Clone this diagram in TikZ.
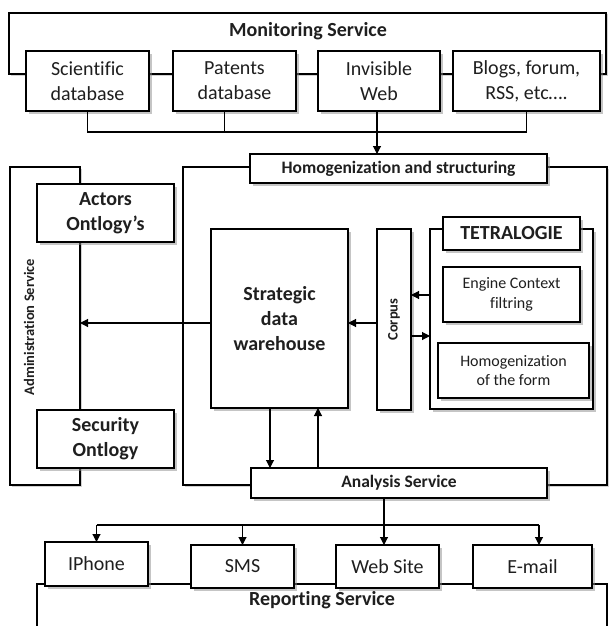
\documentclass[tikz,border=0pt]{standalone}
\usepackage{fontspec}
\setmainfont{Carlito}[Ligatures={NoCommon}]
\usetikzlibrary{arrows.meta,shadows}
\begin{document}
\begin{tikzpicture}[x=1pt,y=-1pt,
  every node/.style={inner sep=0pt, outer sep=0pt, text=black!88},
  line/.style={line width=1.1pt, draw=black},
  frame/.style={draw, line width=1.1pt, fill=white,
    drop shadow={shadow xshift=1.5pt, shadow yshift=-1.5pt, fill=black!35}},
  box/.style={draw, line width=1.1pt, fill=white, align=center,
    drop shadow={shadow xshift=3pt, shadow yshift=-3pt, fill=black!45}},
  big/.style={font=\fontsize{20}{25}\selectfont},
  bigb/.style={font=\bfseries\fontsize{20}{25}\selectfont},
  midb/.style={font=\bfseries\fontsize{17.5}{21}\selectfont},
  small/.style={font=\fontsize{16}{19.5}\selectfont},
  tinyb/.style={font=\bfseries\fontsize{14.5}{17}\selectfont},
  arr/.style={line, -{Triangle[length=8pt,width=8pt]}},
]
\useasboundingbox (0,0) rectangle (609,626);

% ---- outer service frames ----
\node[frame, minimum width=597pt, minimum height=61pt] (mon) at (307.5,43.5) {};
\node[frame, minimum width=70pt, minimum height=318pt] (admin) at (45,326) {};
\node[frame, minimum width=424pt, minimum height=318pt] (mid) at (395,326) {};
\draw[line] (37,630) |- (607,584) -- (607,630);
\coordinate (rep) at (322,600);

% ---- frame titles ----
\node[bigb] (monlbl) at (308,31) {Monitoring Service};
\node[tinyb, rotate=90] (adminlbl) at (29,327) {Administration Service};
\node[bigb] (replbl) at (rep) {Reporting Service};

% ---- sources ----
\node[box, big, minimum width=123pt, minimum height=60pt] (sci) at (87.5,81) {Scientific\\database};
\node[box, big, minimum width=123pt, minimum height=60pt] (pat) at (234.5,81) {Patents\\database};
\node[box, big, minimum width=122pt, minimum height=60pt] (inv) at (379,81) {Invisible\\Web};
\node[box, big, minimum width=147pt, minimum height=60pt] (blog) at (526.5,81) {Blogs, forum,\\RSS, etc….};

% ---- homogenization ----
\node[box, midb, minimum width=297pt, minimum height=29pt] (homog) at (398.5,168.5) {Homogenization and structuring};

% ---- administration ----
\node[box, bigb, minimum width=137pt, minimum height=58pt] (actors) at (105.5,213) {Actors\\Ontlogy’s};
\node[box, bigb, minimum width=137pt, minimum height=58pt] (secu) at (105.5,439) {Security\\Ontlogy};

% ---- processing core ----
\node[box, bigb, minimum width=137pt, minimum height=179pt] (sdw) at (279.5,318.5) {Strategic\\data\\warehouse};
\node[box, minimum width=34pt, minimum height=181pt] (corpus) at (394,319.5) {};
\node[tinyb, rotate=90] (corpuslbl) at (corpus) {Corpus};
\node[box, minimum width=163pt, minimum height=180pt] (tetra) at (511.5,319) {};
\node[box, bigb, minimum width=137pt, minimum height=33pt] (tetralbl) at (511.5,233.5) {TETRALOGIE};
\node[box, small, minimum width=137pt, minimum height=55pt] (engine) at (511.5,294.5) {Engine Context\\filtring};
\node[box, small, minimum width=151pt, minimum height=55pt] (form) at (513.5,370.5) {Homogenization\\of the form};

% ---- analysis ----
\node[box, midb, minimum width=296pt, minimum height=30pt] (ana) at (399,483) {Analysis Service};

% ---- outputs ----
\node[box, big, minimum width=103pt, minimum height=44pt] (iph) at (96.5,564) {IPhone};
\node[box, big, minimum width=103pt, minimum height=43pt] (sms) at (242.5,566.5) {SMS};
\node[box, big, minimum width=103pt, minimum height=43pt] (web) at (387.5,566.5) {Web Site};
\node[box, big, minimum width=119pt, minimum height=43pt] (mail) at (532.5,566.5) {E-mail};

% ---- connectors: sources to homogenization ----
\coordinate (j) at (377,132);
\draw[line] (sci.south) |- (j) -| (blog.south);
\draw[line] ([xshift=-10pt]pat.south) -- ([xshift=-10pt]pat.south |- j);
\draw[arr] (j |- inv.south) -- (j |- homog.north);

% ---- connectors: core ----
\coordinate (lvA) at (0,323);
\coordinate (lvB) at (0,295);
\coordinate (lvC) at (0,336);
\draw[arr] (sdw.west |- lvA) -- (admin.east |- lvA);
\draw[arr] (corpus.west |- lvA) -- (sdw.east |- lvA);
\draw[arr] (tetra.west |- lvB) -- (corpus.east |- lvB);
\draw[arr] (corpus.east |- lvC) -- (tetra.west |- lvC);
\coordinate (cD) at (270,0);
\coordinate (cU) at (318,0);
\draw[arr] (sdw.south -| cD) -- (ana.north -| cD);
\draw[arr] (ana.north -| cU) -- (sdw.south -| cU);

% ---- connectors: analysis to outputs ----
\coordinate (k) at (384,525);
\coordinate (m) at (539,525);
\draw[line] (ana.south -| k) -- (k);
\draw[line] (iph.north |- k) -- (m);
\draw[arr] (iph.north |- k) -- (iph.north);
\draw[arr] (sms.north |- k) -- (sms.north);
\draw[arr] (k) -- (web.north -| k);
\draw[arr] (m) -- (mail.north -| m);
\end{tikzpicture}
\end{document}
